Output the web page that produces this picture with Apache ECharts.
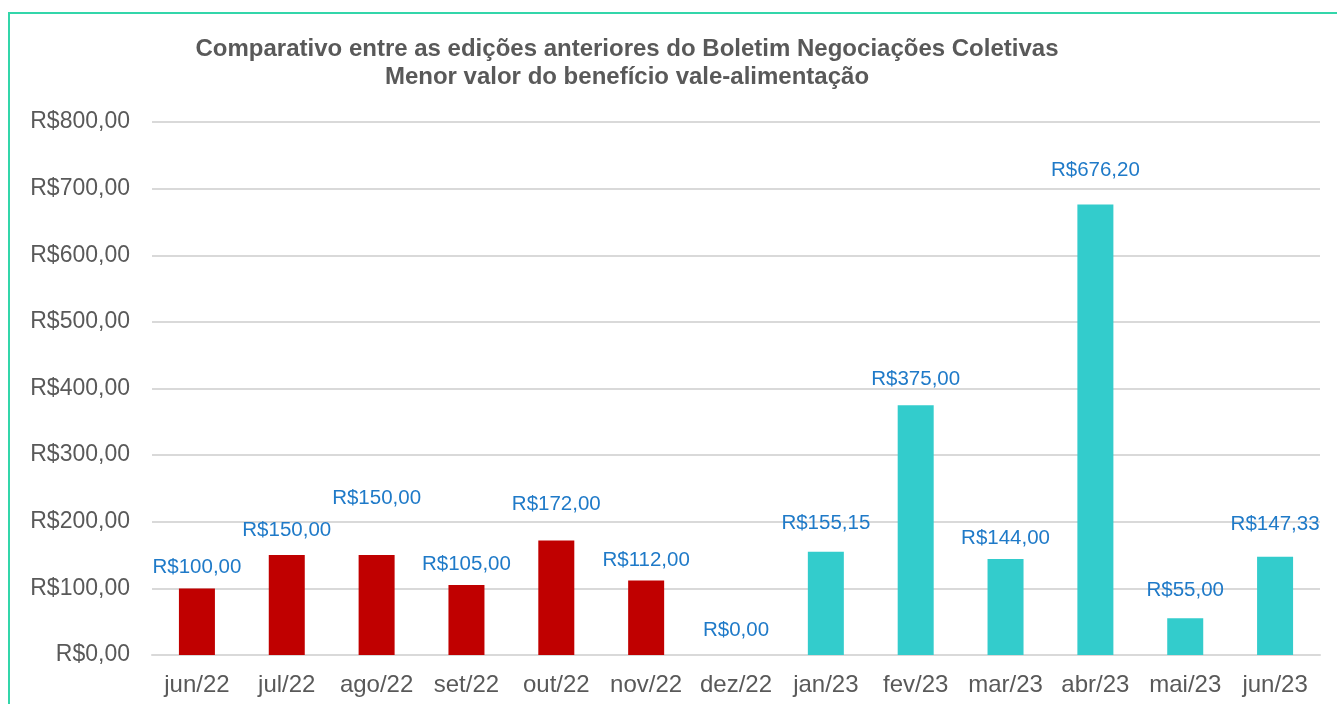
<!DOCTYPE html>
<html>
<head>
<meta charset="utf-8">
<script src="https://cdn.jsdelivr.net/npm/echarts@6/dist/echarts.min.js"></script>
<style>
	html, body { margin: 0; padding: 0; background: #fff; }
	#frame { position: absolute; left: 8px; top: 12px; width: 1340px; height: 720px; border: 2px solid #33d6aa; box-sizing: border-box; }
	#main { position: absolute; left: 0; top: 0; width: 1337px; height: 704px; }
</style>
</head>
<body>
<div id="frame"></div>
<div id="main"></div>
<script>
var meses = ['jun/22', 'jul/22', 'ago/22', 'set/22', 'out/22', 'nov/22', 'dez/22',
	'jan/23', 'fev/23', 'mar/23', 'abr/23', 'mai/23', 'jun/23'];
var valores = [100, 150, 150, 105, 172, 112, 0, 155.15, 375, 144, 676.2, 55, 147.33];
var eixoY = [0, 100, 200, 300, 400, 500, 600, 700, 800];

function reais(v) {
	return 'R$' + v.toFixed(2).replace('.', ',');
}

window.onload = function () {
	var myChart = echarts.init(document.getElementById('main'));
	// deslocamento dos rótulos como no gráfico original
	var subir = {
		'jun/22': 1, 'jul/22': 4, 'ago/22': 36, 'out/22': 16, 'dez/22': 4,
		'jan/23': 8, 'fev/23': 5, 'abr/23': 14, 'mai/23': 8, 'jun/23': 12
	};
	var dados = valores.map(function (v, i) {
		var m = meses[i];
		return {
			value: v,
			itemStyle: { color: m.indexOf('/22') > 0 ? '#c00000' : '#33cccc' },
			label: { distance: 10 + (subir[m] || 0) }
		};
	});
	option = {
		title: {
			text: 'Comparativo entre as edições anteriores do Boletim Negociações Coletivas\nMenor valor do benefício vale-alimentação',
			left: 622,
			textAlign: 'center',
			top: 30,
			textStyle: {
				color: '#595959',
				fontFamily: 'Liberation Sans, Arial',
				fontWeight: 'bold',
				fontSize: 24,
				lineHeight: 28
			}
		},
		grid: {
			left: 152,
			right: 17,
			top: 122,
			bottom: 49
		},
		xAxis: {
			type: 'category',
			data: meses,
			axisLine: { lineStyle: { color: '#d9d9d9', width: 2 } },
			axisTick: { show: false },
			axisLabel: {
				interval: 0,
				color: '#595959',
				fontFamily: 'Liberation Sans, Arial',
				fontSize: 24,
				margin: 18
			}
		},
		yAxis: {
			type: 'value',
			min: eixoY[0],
			max: eixoY[eixoY.length - 1],
			interval: 100,
			axisLine: { show: false },
			axisTick: { show: false },
			splitLine: { lineStyle: { color: '#d9d9d9', width: 2 } },
			axisLabel: {
				color: '#595959',
				fontFamily: 'Liberation Sans, Arial',
				fontSize: 23,
				margin: 22,
				formatter: function (v) { return reais(v); }
			}
		},
		series: [
			{
				type: 'bar',
				barWidth: 36,
				data: dados,
				label: {
					show: true,
					position: 'top',
					color: '#1f7ac8',
					fontFamily: 'Liberation Sans, Arial',
					fontSize: 20.5,
					formatter: function (p) { return reais(p.value); }
				}
			}
		]
	};
	myChart.setOption(option);
};
</script>
</body>
</html>
